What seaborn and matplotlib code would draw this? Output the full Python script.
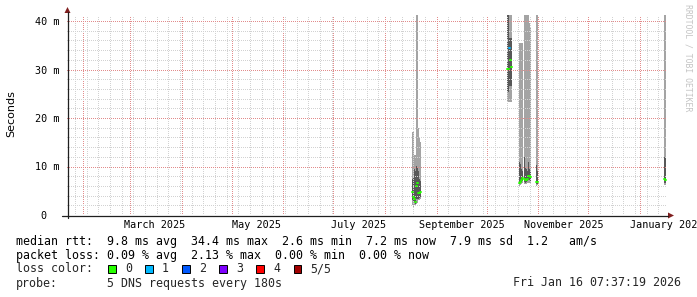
import numpy as np
import pandas as pd
import matplotlib
matplotlib.use("Agg")
import matplotlib.pyplot as plt
import matplotlib.dates as mdates
from matplotlib.patches import Rectangle, Polygon
from matplotlib.lines import Line2D
import seaborn as sns

# ---------------- data ----------------
bin_start = [
    "2025-08-17 12:00", "2025-08-18 00:00", "2025-08-18 12:00", "2025-08-19 00:00",
    "2025-08-19 12:00", "2025-08-20 00:00", "2025-08-20 12:00", "2025-08-21 00:00",
    "2025-08-21 12:00", "2025-08-22 00:00",
    "2025-10-13 12:00", "2025-10-14 00:00", "2025-10-14 12:00", "2025-10-15 00:00",
    "2025-10-15 12:00",
    "2025-10-20 12:00", "2025-10-21 00:00", "2025-10-21 12:00", "2025-10-22 00:00",
    "2025-10-22 12:00",
    "2025-10-23 12:00", "2025-10-24 00:00", "2025-10-24 12:00", "2025-10-25 00:00",
    "2025-10-25 12:00", "2025-10-26 00:00", "2025-10-26 12:00", "2025-10-27 00:00",
    "2025-10-30 12:00", "2025-10-31 00:00", "2025-10-31 12:00",
    "2026-01-15 12:00", "2026-01-16 00:00",
]
# five sorted ping rtts per bin (ms): p1 = min ... p5 = max, p3 = median
ping1 = [2.0, 1.6, 2.1, 1.9, 2.3, 2.6, 2.4, 3.0, 3.1, 3.2,
         23.4, 23.4, 23.4, 23.4, 23.4,
         6.0, 6.2, 6.4, 6.6, 6.5,
         6.3, 6.3, 6.4, 6.4, 6.5, 6.6, 6.6, 6.6,
         6.0, 6.0, 6.1,
         6.2, 6.2]
ping2 = [3.0, 2.6, 2.6, 2.3, 3.2, 3.0, 3.2, 3.4, 3.6, 3.8,
         25.4, 25.4, 26.5, 26.5, 26.5,
         6.3, 6.6, 6.8, 7.0, 7.0,
         6.8, 6.7, 6.8, 6.8, 7.0, 7.2, 7.2, 7.1,
         6.3, 6.4, 6.4,
         6.6, 6.6]
median = [4.8, 3.8, 3.4, 2.6, 6.0, 7.9, 6.5, 4.6, 4.5, 4.8,
          30.1, 30.1, 34.4, 32.0, 30.6,
          6.5, 6.9, 7.2, 7.8, 7.6,
          7.4, 7.2, 7.2, 7.2, 7.5, 8.0, 8.0, 7.9,
          6.9, 7.0, 6.9,
          7.4, 7.2]
ping4 = [7.5, 8.0, 9.5, 9.0, 10.2, 10.2, 10.0, 9.0, 7.5, 7.0,
         45.0, 45.0, 36.4, 36.4, 36.4,
         11.0, 10.5, 9.5, 11.5, 9.0,
         12.0, 10.0, 9.5, 10.5, 9.0, 11.0, 9.5, 9.0,
         10.3, 10.0, 9.0,
         12.0, 12.0]
ping5 = [17.2, 17.2, 12.4, 12.4, 45.0, 45.0, 45.0, 18.0, 16.0, 15.0,
         45.0, 45.0, 45.0, 45.0, 45.0,
         35.4, 35.4, 35.4, 35.4, 35.4,
         45.0, 45.0, 45.0, 45.0, 45.0, 45.0, 39.5, 38.5,
         45.0, 45.0, 45.0,
         45.0, 45.0]
loss = [0, 0, 0, 0, 0, 0, 0, 0, 0, 0,
        0, 0, 1, 0, 0,
        0, 0, 0, 0, 0,
        0, 0, 0, 0, 0, 0, 0, 0,
        0, 0, 0,
        0, 0]

loss_labels = ["0", "1", "2", "3", "4", "5/5"]
loss_colors = ["#26ff00", "#00b8ff", "#0059ff", "#7e00ff", "#ff0000", "#a10000"]

month_labels = ["March 2025", "May 2025", "July 2025", "September 2025",
                "November 2025", "January 2026"]
month_label_at = ["2025-03-16", "2025-05-16", "2025-07-16", "2025-09-16",
                  "2025-11-16", "2026-01-17"]
y_ticks = [0, 10, 20, 30, 40]
y_tick_labels = ["0  ", "10 m", "20 m", "30 m", "40 m"]

legend_lines = [
    "median rtt:  9.8 ms avg  34.4 ms max  2.6 ms min  7.2 ms now  7.9 ms sd  1.2   am/s",
    "packet loss: 0.09 % avg  2.13 % max  0.00 % min  0.00 % now",
]
probe_text = "5 DNS requests every 180s"
date_text = "Fri Jan 16 07:37:19 2026"

# ---------------- figure ----------------
sns.set_theme(style="white")
plt.rcParams["font.family"] = ["DejaVu Sans"]
MONO = "DejaVu Sans Mono"

W, H = 697, 297
L, R, T, B = 67, 667, 15, 215
fig = plt.figure(figsize=(W / 100, H / 100), dpi=100, facecolor="white")
ax = fig.add_axes([L / W, 1 - B / H, (R - L) / W, (B - T) / H])
ax.set_facecolor("white")
for s in ax.spines.values():
    s.set_visible(False)

x0 = mdates.date2num(pd.Timestamp("2025-01-22 05:00"))
ax.set_xlim(x0, x0 + 360)
ax.set_ylim(0, 200 / 4.85)

SMOKE_OUT = "#a4a4a4"
SMOKE_IN = "#585858"
step = 0.5
xb = mdates.date2num(pd.to_datetime(bin_start))
arr = {k: np.asarray(v, float) for k, v in
       dict(p1=ping1, p2=ping2, p3=median, p4=ping4, p5=ping5).items()}
breaks = np.where(np.diff(xb) > step * 1.01)[0] + 1
for idx in np.split(np.arange(len(xb)), breaks):
    xs = np.append(xb[idx], xb[idx[-1]] + step)
    ext = lambda a: np.append(a[idx], a[idx][-1])
    ax.fill_between(xs, ext(arr["p1"]), ext(arr["p5"]), step="post",
                    color=SMOKE_OUT, lw=0, zorder=2)
    ax.fill_between(xs, ext(arr["p2"]), ext(arr["p4"]), step="post",
                    color=SMOKE_IN, lw=0, zorder=3)

# median: one short segment per bin, coloured by loss
med_df = pd.DataFrame({
    "x": np.concatenate([xb, xb + step]),
    "y": np.concatenate([arr["p3"], arr["p3"]]),
    "bin": np.concatenate([np.arange(len(xb))] * 2),
    "loss": np.concatenate([np.asarray(loss)] * 2),
}).sort_values(["bin", "x"])
sns.lineplot(data=med_df, x="x", y="y", units="bin", hue="loss",
             palette={i: c for i, c in enumerate(loss_colors)},
             estimator=None, sort=False, legend=False, lw=1.4, ax=ax, zorder=6)
ax.set_xlabel("")
ax.set_ylabel("")

# grid (rrdtool draws it on top of the graph)
GRID = "#d2d2d2"
MGRID = "#e28c8c"
dots = (0, (1, 2))
months = mdates.date2num(pd.date_range("2025-02-01", "2026-01-01", freq="MS"))
weeks = mdates.date2num(pd.date_range("2025-01-27", "2026-01-16", freq="W-MON"))
for w in weeks:
    if np.min(np.abs(months - w)) > 0.5:
        ax.axvline(w, color=GRID, lw=0.72, ls=dots, zorder=5, antialiased=False)
for m in months:
    ax.axvline(m, color=MGRID, lw=0.72, ls=dots, zorder=5, antialiased=False)
for yv in np.arange(2, 42, 2):
    ax.axhline(yv, color=MGRID if yv % 10 == 0 else GRID, lw=0.72, ls=dots,
               zorder=5, antialiased=False)

# ticks / labels
ax.set_xticks(mdates.date2num(pd.to_datetime(month_label_at)))
ax.set_xticklabels(month_labels, family=MONO, fontsize=7.3, color="black")
ax.set_yticks(y_ticks)
ax.set_yticklabels(y_tick_labels, family=MONO, fontsize=7.3, color="black")
ax.tick_params(axis="x", length=0, pad=3.8)
ax.tick_params(axis="y", length=0, pad=5.6)
ax.grid(False)

# axes lines and arrows in pixel coords
def fx(px):
    return px / W

def fy(py):
    return 1 - py / H

AXIS = "#1f1f1f"
ARROW = "#801f1f"
fig.add_artist(Line2D([fx(62), fx(668)], [fy(215.5), fy(215.5)], color=AXIS, lw=0.9))
fig.add_artist(Line2D([fx(67.5), fx(67.5)], [fy(218), fy(12)], color=AXIS, lw=0.9))
fig.add_artist(Polygon([[fx(668), fy(212.5)], [fx(674), fy(215.5)], [fx(668), fy(218.5)]],
                       closed=True, color=ARROW, lw=0))
fig.add_artist(Polygon([[fx(64.5), fy(13)], [fx(67.5), fy(7)], [fx(70.5), fy(13)]],
                       closed=True, color=ARROW, lw=0))

fig.text(fx(11), fy(114), "Seconds", rotation=90, ha="center", va="center",
         fontsize=8, color="black")
fig.text(fx(688), fy(4), "RRDTOOL / TOBI OETIKER", rotation=-90, ha="center",
         va="top", family=MONO, fontsize=5.9, color="#c4c4c4")

# legend
row_y = [241, 255, 269, 283]
LEG = 8.4
for r, s in enumerate(legend_lines):
    fig.text(fx(16), fy(row_y[r]), s, family=MONO, fontsize=LEG,
             ha="left", va="center", color="black")
fig.text(fx(16), fy(row_y[2]), "loss color:", family=MONO, fontsize=LEG,
         ha="left", va="center")
sw_x = [108.3, 145.3, 182.3, 219.3, 256.3, 293.8]
for i, (lab, col) in enumerate(zip(loss_labels, loss_colors)):
    fig.add_artist(Rectangle((fx(sw_x[i]), fy(272.5)), 7.5 / W, 7.5 / H,
                             facecolor=col, edgecolor="black", lw=0.7))
    fig.text(fx(sw_x[i] + 16.8), fy(row_y[2]), lab, family=MONO, fontsize=LEG,
             ha="left", va="center")
fig.text(fx(16), fy(row_y[3]), "probe:", family=MONO, fontsize=LEG,
         ha="left", va="center")
fig.text(fx(107.3), fy(row_y[3]), probe_text, family=MONO, fontsize=LEG,
         ha="left", va="center")
fig.text(fx(681), fy(row_y[3]), date_text, family=MONO, fontsize=LEG,
         ha="right", va="center")

fig.savefig("out.png", dpi=100, facecolor="white")
